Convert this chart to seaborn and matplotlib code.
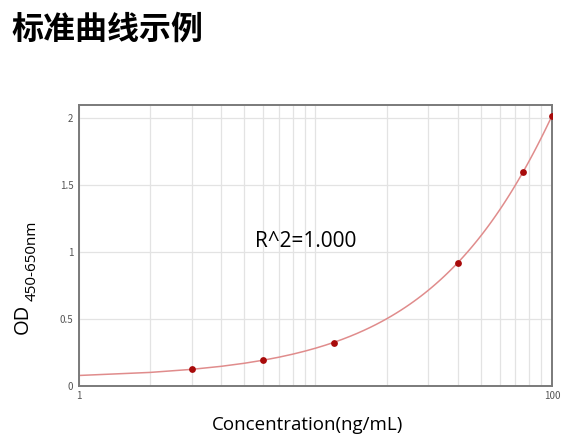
import numpy as np
import seaborn as sns
import matplotlib.pyplot as plt

sns.set_style('white')
plt.rcParams['font.family'] = ['Noto Sans CJK SC', 'DejaVu Sans']

# standard points
conc = [3, 6, 12, 40, 75, 100]
od = [0.125, 0.195, 0.32, 0.92, 1.595, 2.018]
title = '标准曲线示例'
r2_text = 'R^2=1.000'

fig = plt.figure(figsize=(5.88, 4.42), dpi=100)
ax = fig.add_axes([0.134, 0.127, 0.805, 0.636])
ax.set_xscale('log')
ax.set_xlim(1, 100)
ax.set_ylim(0, 2.1)

# quadratic fit drawn over the whole x range, then the points
sns.regplot(x=conc, y=od, order=2, ci=None, truncate=False, ax=ax,
            scatter_kws=dict(s=24, color='#a80a0a', alpha=1, zorder=3, linewidths=0),
            line_kws=dict(color='#e08c8c', lw=1.1, zorder=2))

ax.set_xticks([1, 10, 100])
ax.set_xticklabels(['1', '', '100'])
ax.set_yticks([0, 0.5, 1, 1.5, 2])
ax.set_yticklabels(['0', '0.5', '1', '1.5', '2'])
ax.tick_params(which='both', length=0, labelsize=7, colors='#555555', pad=4)
ax.grid(which='both', color='#e3e3e3', lw=0.9)
ax.set_axisbelow(True)
for s in ax.spines.values():
    s.set_color('#7a7a7a')
    s.set_linewidth(1.4)

ax.text(0.372, 0.512, r2_text, transform=ax.transAxes, fontsize=15, color='black',
        va='center', ha='left', family=['Open Sans', 'DejaVu Sans'])

fig.text(0.02, 0.932, title, fontsize=23, fontweight='bold', color='black',
         va='center', ha='left')
fig.text(0.523, 0.038, 'Concentration(ng/mL)', fontsize=13.5, color='black',
         ha='center', va='center', family=['Open Sans', 'DejaVu Sans'])
fig.text(0.038, 1 - 334 / 442, 'OD', fontsize=14.5, rotation=90, color='black',
         ha='center', va='bottom', family=['Open Sans', 'DejaVu Sans'])
fig.text(0.054, 1 - 301 / 442, '450-650nm', fontsize=11, rotation=90, color='black',
         ha='center', va='bottom', family=['Open Sans', 'DejaVu Sans'])

fig.savefig('out.png', dpi=100)
